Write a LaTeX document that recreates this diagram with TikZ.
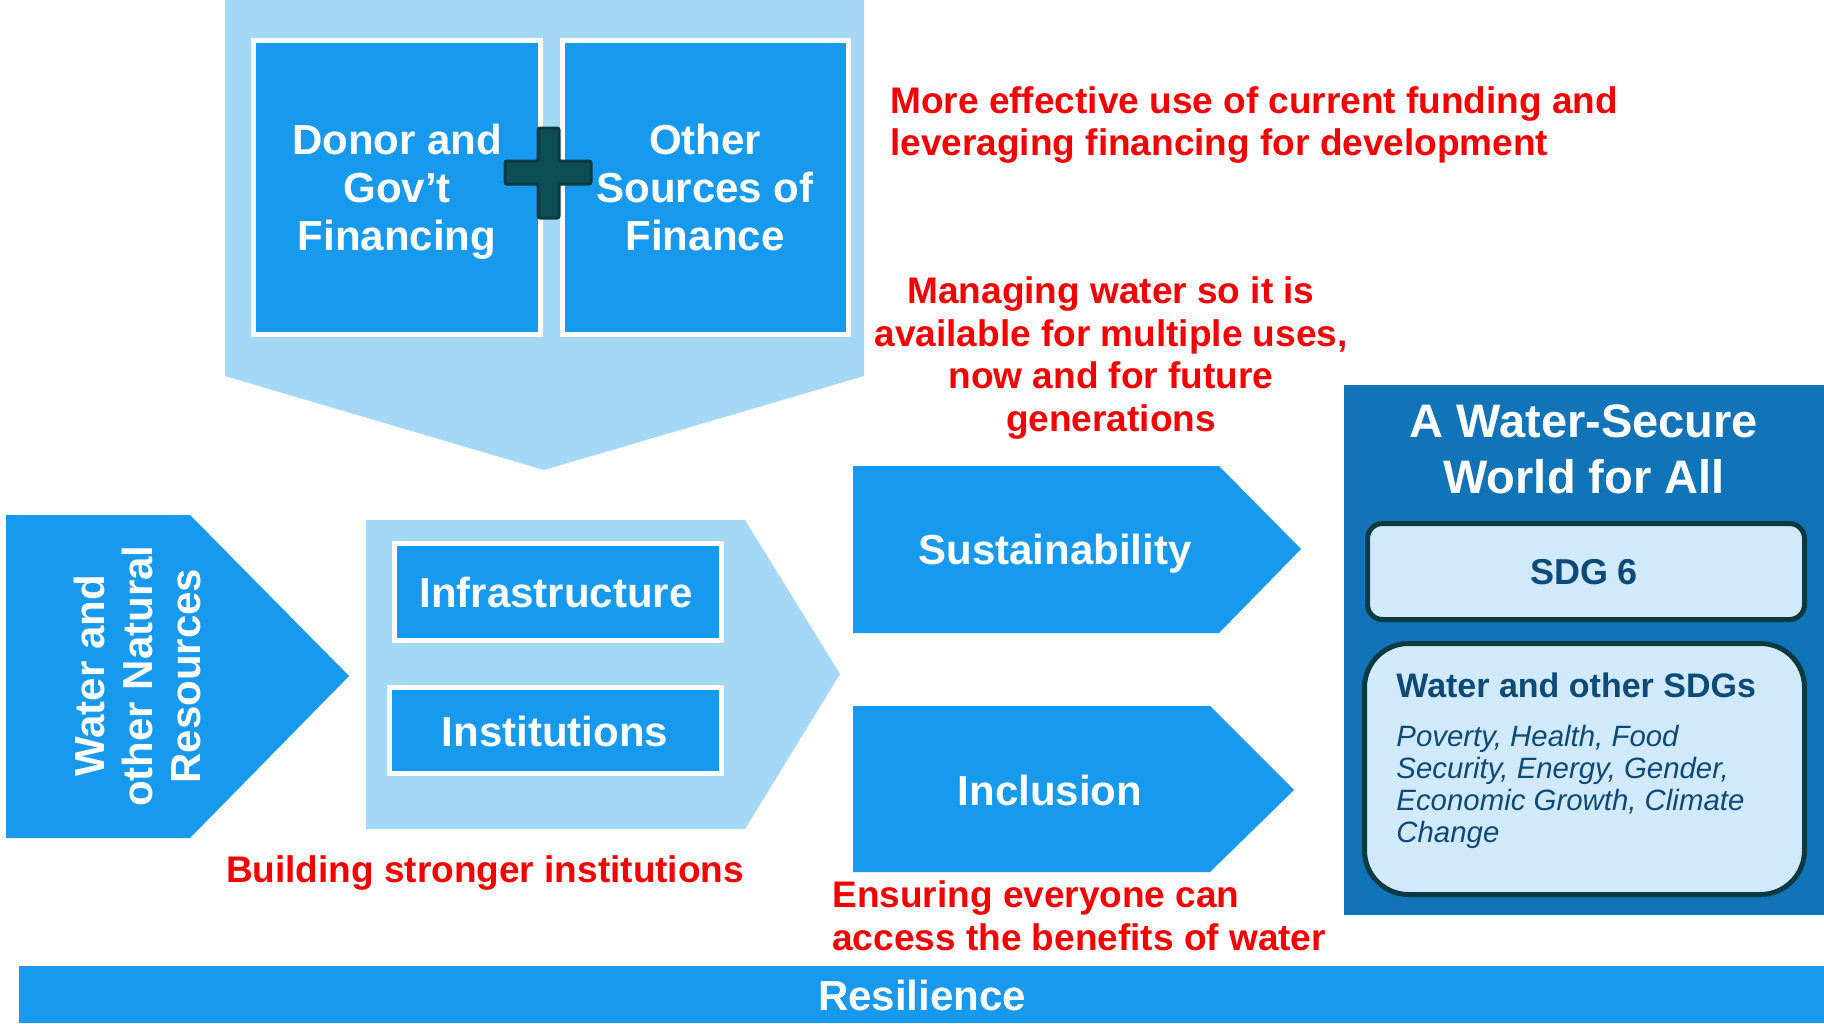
\documentclass[tikz,border=0pt]{standalone}
\usepackage{fontspec}
\setmainfont{Liberation Sans}
\definecolor{bblue}{RGB}{23,154,238}
\definecolor{lblue}{RGB}{165,216,247}
\definecolor{dblue}{RGB}{17,115,184}
\definecolor{pale}{RGB}{209,234,251}
\definecolor{dteal}{RGB}{11,58,66}
\definecolor{pteal}{RGB}{13,77,85}
\definecolor{navy}{RGB}{14,74,120}
\definecolor{redtxt}{RGB}{245,0,0}
\tikzset{
  wtxt/.style={text=white, font=\fontsize{21}{24}\selectfont\bfseries, align=center, inner sep=0pt},
  rtxt/.style={text=redtxt, font=\fontsize{18.5}{21.4}\selectfont\bfseries, inner sep=0pt},
  wbox/.style={draw=white, line width=2.5pt, fill=bblue},
  sdgbox/.style={draw=dteal, line width=2.5pt, fill=pale},
}
\begin{document}
\begin{tikzpicture}[x=0.5pt,y=-0.5pt]
\useasboundingbox (0,0) rectangle (1824,1023);
% top financing pentagon
\fill[lblue] (225,0) -- (864,0) -- (864,376) -- (544,470) -- (225,376) -- cycle;
\draw[wbox] (253,40) rectangle (540,334);
\draw[wbox] (562,40) rectangle (848,334);
\node[wtxt] (donor) at (397,192) {Donor and\\Gov’t\\Financing};
\node[wtxt] (other) at (705,187) {Other\\Sources of\\Finance};
\draw[draw=dteal, fill=pteal, line width=1.5pt, rounded corners=1pt]
  (538,128) -- (559,128) -- (559,161) -- (591,161) -- (591,184) -- (559,184)
  -- (559,218) -- (538,218) -- (538,184) -- (505,184) -- (505,161) -- (538,161) -- cycle;
% red notes
\node[rtxt, align=left, anchor=west] (funding) at (890,125) {More effective use of current funding and\\leveraging financing for development};
\node[rtxt, align=center] (managing) at (1111,358) {Managing water so it is\\available for multiple uses,\\now and for future\\generations};
% left resources arrow
\fill[bblue] (6,515) -- (190,515) -- (349,676) -- (190,838) -- (6,838) -- cycle;
\node[wtxt, rotate=90] (water) at (137,676) {Water and\\other Natural\\Resources};
% middle arrow
\fill[lblue] (366,520) -- (745,520) -- (840,674) -- (745,829) -- (366,829) -- cycle;
\draw[wbox] (394.5,543.5) rectangle (721.5,640.5);
\draw[wbox] (389.5,687.5) rectangle (721.5,773.5);
\node[wtxt] (infra) at (556,592) {Infrastructure};
\node[wtxt] (inst) at (555,731) {Institutions};
\node[rtxt] (building) at (485,873) {Building stronger institutions};
% sustainability / inclusion
\fill[bblue] (853,466) -- (1219,466) -- (1301,549) -- (1219,633) -- (853,633) -- cycle;
\node[wtxt] (sust) at (1055,554) {Sustainability};
\fill[bblue] (853,706) -- (1210,706) -- (1294,790) -- (1210,872) -- (853,872) -- cycle;
\node[wtxt] (incl) at (1050,790) {Inclusion};
\node[rtxt, align=left, anchor=west] (ensuring) at (832,916) {Ensuring everyone can\\access the benefits of water};
% water-secure world
\fill[dblue] (1344,385) rectangle (1824,915);
\node[text=white, font=\fontsize{23.5}{28}\selectfont\bfseries, align=center, inner sep=0pt] (world) at (1584,449) {A Water-Secure\\World for All};
\draw[sdgbox, rounded corners=7.5pt] (1367.5,523.5) rectangle (1804.5,619.5);
\node[text=navy, font=\fontsize{18}{21}\selectfont\bfseries, inner sep=0pt] (sdg6) at (1584,572) {SDG 6};
\draw[sdgbox, rounded corners=22pt] (1364.5,643.5) rectangle (1804.5,894.5);
\node[text=navy, font=\fontsize{17}{20}\selectfont\bfseries, inner sep=0pt, anchor=west] (othersdg) at (1396,685) {Water and other SDGs};
\node[text=navy, font=\fontsize{14.7}{16}\selectfont\itshape, inner sep=0pt, anchor=west, align=left] (list) at (1396,787) {Poverty, Health, Food\\Security, Energy, Gender,\\Economic Growth, Climate\\Change};
% resilience bar
\fill[bblue] (19,966) rectangle (1824,1023);
\node[wtxt] (resil) at (922,995) {Resilience};
\end{tikzpicture}
\end{document}
